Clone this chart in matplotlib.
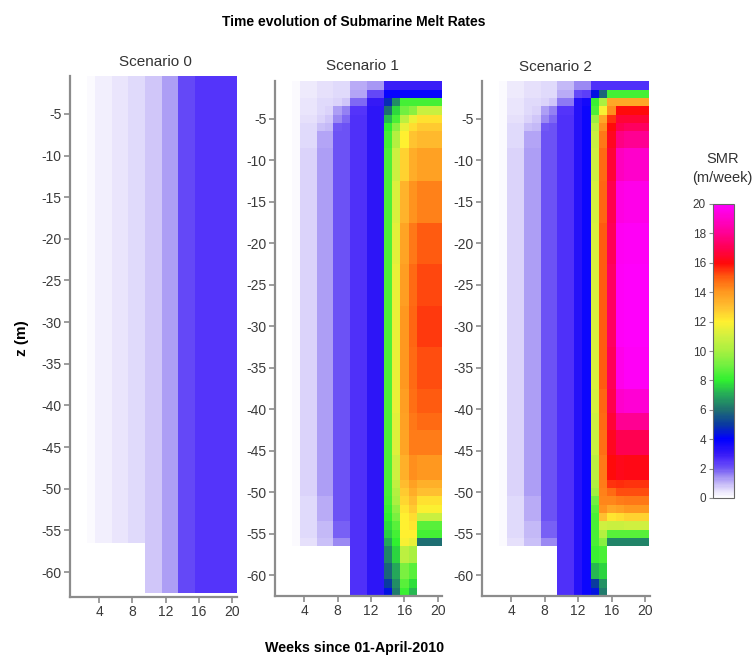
import numpy as np
import matplotlib.pyplot as plt
from matplotlib.colors import LinearSegmentedColormap

plt.rcParams["font.family"] = ["Liberation Sans", "DejaVu Sans"]
plt.rcParams["axes.unicode_minus"] = False

N = np.nan

# x: weeks since 01-April-2010, one cell per week
weeks = list(range(1, 21))
week_edges = [w - 0.5 for w in weeks] + [20.5]

# depth bands (m), top -> bottom (1 m cells near top/bottom, coarser in the middle)
z_edges = [-0.5, -1.5, -2.5, -3.5, -4.5, -5.5, -6.5, -8.5, -12.5, -17.5, -22.5,
           -27.5, -32.5, -37.5, -40.5, -42.5, -45.5, -48.5, -49.5, -50.5, -51.5,
           -52.5, -53.5, -54.5, -55.5, -56.5, -58.5, -60.5, -61.5, -62.5]

yticks = [-5, -10, -15, -20, -25, -30, -35, -40, -45, -50, -55, -60]
xticks = [4, 8, 12, 16, 20]
cbar_ticks = [0, 2, 4, 6, 8, 10, 12, 14, 16, 18, 20]

# Scenario 0: each week constant with depth, early weeks stop at -56.5 m
s0_weekly = [0.02, 0.02, 0.1, 0.25, 0.25, 0.4, 0.4, 0.6, 0.6, 0.85,
             0.85, 1.3, 1.3, 2.2, 2.2, 2.5, 2.5, 2.5, 2.5, 2.5]
s0_bottom = [-56.5] * 9 + [-62.5] * 11

# Scenario 1 SMR (m/week), rows = depth bands, cols = weeks 1..20
s1 = [
    [0.02, 0.05, 0.1, 0.35, 0.35, 0.5, 0.5, 0.6, 0.6, 1.1, 1.1, 1.4, 1.4, 2.9, 2.9, 2.9, 2.9, 2.9, 2.9, 2.9],
    [0.02, 0.05, 0.1, 0.35, 0.35, 0.5, 0.5, 0.6, 0.6, 1.2, 1.2, 2.2, 2.2, 3.9, 3.9, 3.9, 3.9, 3.9, 3.9, 3.9],
    [0.02, 0.05, 0.1, 0.4, 0.4, 0.55, 0.55, 0.7, 0.8, 1.8, 1.8, 3.0, 3.0, 4.8, 6.5, 8.3, 8.3, 8.3, 8.3, 8.3],
    [0.02, 0.05, 0.1, 0.45, 0.45, 0.6, 0.7, 1.3, 1.6, 2.5, 2.5, 3.2, 3.2, 6.0, 7.7, 9.0, 9.5, 10.8, 10.8, 10.8],
    [0.02, 0.05, 0.12, 0.5, 0.5, 0.7, 0.8, 1.5, 1.8, 2.6, 2.6, 3.2, 3.2, 7.2, 8.4, 10.5, 11.6, 12.3, 12.3, 12.3],
    [0.02, 0.05, 0.12, 0.55, 0.55, 0.9, 1.0, 2.0, 2.1, 2.6, 2.6, 3.2, 3.2, 8.0, 9.5, 11.5, 12.4, 12.8, 12.8, 12.8],
    [0.02, 0.05, 0.12, 0.6, 0.6, 1.2, 1.2, 2.1, 2.1, 2.6, 2.6, 3.2, 3.2, 8.3, 10.3, 12.0, 12.9, 13.2, 13.2, 13.2],
    [0.02, 0.05, 0.12, 0.7, 0.7, 1.3, 1.3, 2.1, 2.1, 2.6, 2.6, 3.2, 3.2, 8.5, 10.9, 12.6, 13.5, 13.8, 13.8, 13.8],
    [0.02, 0.05, 0.12, 0.7, 0.7, 1.3, 1.3, 2.1, 2.1, 2.6, 2.6, 3.2, 3.2, 8.5, 11.2, 13.3, 14.1, 14.4, 14.4, 14.4],
    [0.02, 0.05, 0.12, 0.7, 0.7, 1.3, 1.3, 2.1, 2.1, 2.6, 2.6, 3.2, 3.2, 8.5, 11.4, 13.7, 14.6, 15.0, 15.0, 15.0],
    [0.02, 0.05, 0.12, 0.7, 0.7, 1.3, 1.3, 2.1, 2.1, 2.6, 2.6, 3.2, 3.2, 8.5, 11.5, 13.9, 14.8, 15.3, 15.3, 15.3],
    [0.02, 0.05, 0.12, 0.7, 0.7, 1.3, 1.3, 2.1, 2.1, 2.6, 2.6, 3.2, 3.2, 8.5, 11.5, 14.0, 14.9, 15.4, 15.4, 15.4],
    [0.02, 0.05, 0.12, 0.7, 0.7, 1.3, 1.3, 2.1, 2.1, 2.6, 2.6, 3.2, 3.2, 8.5, 11.5, 14.0, 14.8, 15.2, 15.2, 15.2],
    [0.02, 0.05, 0.12, 0.7, 0.7, 1.3, 1.3, 2.1, 2.1, 2.6, 2.6, 3.2, 3.2, 8.5, 11.5, 13.9, 14.7, 15.0, 15.0, 15.0],
    [0.02, 0.05, 0.12, 0.7, 0.7, 1.3, 1.3, 2.1, 2.1, 2.6, 2.6, 3.2, 3.2, 8.5, 11.4, 13.8, 14.6, 14.8, 14.8, 14.8],
    [0.02, 0.05, 0.12, 0.7, 0.7, 1.3, 1.3, 2.1, 2.1, 2.6, 2.6, 3.2, 3.2, 8.5, 11.3, 13.7, 14.5, 14.5, 14.5, 14.5],
    [0.02, 0.05, 0.12, 0.7, 0.7, 1.3, 1.3, 2.1, 2.1, 2.6, 2.6, 3.2, 3.2, 8.5, 11.0, 13.4, 14.2, 14.0, 14.0, 14.0],
    [0.02, 0.05, 0.12, 0.7, 0.7, 1.3, 1.3, 2.1, 2.1, 2.6, 2.6, 3.2, 3.2, 8.4, 10.6, 13.1, 13.8, 13.4, 13.4, 13.4],
    [0.02, 0.05, 0.12, 0.7, 0.7, 1.3, 1.3, 2.1, 2.1, 2.6, 2.6, 3.2, 3.2, 8.4, 10.3, 12.8, 13.5, 13.0, 13.0, 13.0],
    [0.02, 0.05, 0.12, 0.6, 0.6, 1.1, 1.1, 2.1, 2.1, 2.6, 2.6, 3.2, 3.2, 8.3, 10.0, 12.5, 13.1, 12.3, 12.3, 12.3],
    [0.02, 0.05, 0.12, 0.6, 0.6, 1.1, 1.1, 2.1, 2.1, 2.6, 2.6, 3.2, 3.2, 8.2, 9.6, 12.2, 12.8, 11.9, 11.9, 11.9],
    [0.02, 0.05, 0.12, 0.6, 0.6, 1.1, 1.1, 2.1, 2.1, 2.6, 2.6, 3.2, 3.2, 8.0, 9.2, 12.0, 12.4, 10.8, 10.8, 10.8],
    [0.02, 0.05, 0.12, 0.55, 0.55, 1.0, 1.0, 1.9, 1.9, 2.6, 2.6, 3.2, 3.2, 7.8, 8.6, 12.0, 12.2, 8.6, 8.6, 8.6],
    [0.02, 0.05, 0.12, 0.55, 0.55, 1.0, 1.0, 1.9, 1.9, 2.6, 2.6, 3.2, 3.2, 7.5, 8.3, 12.0, 12.0, 8.3, 8.3, 8.3],
    [0.02, 0.05, 0.12, 0.5, 0.5, 0.9, 0.9, 1.5, 1.5, 2.6, 2.6, 3.2, 3.2, 7.0, 8.0, 11.8, 11.5, 6.0, 6.0, 6.0],
    [N, N, N, N, N, N, N, N, N, 2.6, 2.6, 3.2, 3.2, 6.4, 7.6, 10.5, 10.0, N, N, N],
    [N, N, N, N, N, N, N, N, N, 2.6, 2.6, 3.2, 3.2, 5.8, 7.0, 9.2, 8.6, N, N, N],
    [N, N, N, N, N, N, N, N, N, 2.6, 2.6, 3.2, 3.2, 5.0, 6.5, 8.6, 7.8, N, N, N],
    [N, N, N, N, N, N, N, N, N, 2.6, 2.6, 3.2, 3.2, 4.3, 6.2, 8.2, 7.2, N, N, N],
]

# Scenario 2 SMR (m/week)
s2 = [
    [0.02, 0.05, 0.1, 0.35, 0.35, 0.5, 0.5, 0.6, 0.6, 1.0, 1.0, 1.5, 1.5, 2.6, 2.6, 2.6, 2.6, 2.6, 2.6, 2.6],
    [0.02, 0.05, 0.1, 0.35, 0.35, 0.5, 0.5, 0.6, 0.6, 1.1, 1.1, 2.2, 2.4, 4.3, 5.8, 8.3, 8.3, 8.3, 8.3, 8.3],
    [0.02, 0.05, 0.1, 0.4, 0.4, 0.55, 0.55, 0.7, 0.8, 1.7, 1.7, 3.3, 3.6, 8.2, 10.0, 13.6, 13.6, 13.6, 13.6, 13.6],
    [0.02, 0.05, 0.1, 0.45, 0.45, 0.6, 0.7, 1.3, 1.6, 2.5, 2.5, 3.3, 3.8, 8.5, 11.8, 14.2, 16.0, 16.0, 16.0, 16.0],
    [0.02, 0.05, 0.12, 0.5, 0.5, 0.7, 0.8, 1.5, 1.8, 2.6, 2.6, 3.3, 3.8, 9.8, 13.6, 15.5, 16.6, 16.6, 16.6, 16.6],
    [0.02, 0.05, 0.12, 0.55, 0.55, 0.9, 1.0, 2.0, 2.1, 2.6, 2.6, 3.3, 3.8, 10.5, 14.2, 16.0, 17.0, 17.2, 17.2, 17.2],
    [0.02, 0.05, 0.12, 0.6, 0.6, 1.2, 1.2, 2.1, 2.1, 2.6, 2.6, 3.3, 3.8, 10.8, 14.6, 16.3, 17.8, 18.0, 18.0, 18.0],
    [0.02, 0.05, 0.12, 0.7, 0.7, 1.3, 1.3, 2.1, 2.1, 2.6, 2.6, 3.3, 3.8, 11.0, 14.8, 16.6, 18.8, 19.0, 19.0, 19.0],
    [0.02, 0.05, 0.12, 0.7, 0.7, 1.3, 1.3, 2.1, 2.1, 2.6, 2.6, 3.3, 3.8, 11.1, 14.9, 16.9, 19.4, 19.6, 19.6, 19.6],
    [0.02, 0.05, 0.12, 0.7, 0.7, 1.3, 1.3, 2.1, 2.1, 2.6, 2.6, 3.3, 3.8, 11.2, 15.0, 17.1, 19.7, 19.8, 19.8, 19.8],
    [0.02, 0.05, 0.12, 0.7, 0.7, 1.3, 1.3, 2.1, 2.1, 2.6, 2.6, 3.3, 3.8, 11.2, 15.0, 17.2, 19.8, 19.9, 19.9, 19.9],
    [0.02, 0.05, 0.12, 0.7, 0.7, 1.3, 1.3, 2.1, 2.1, 2.6, 2.6, 3.3, 3.8, 11.2, 15.0, 17.2, 19.8, 19.9, 19.9, 19.9],
    [0.02, 0.05, 0.12, 0.7, 0.7, 1.3, 1.3, 2.1, 2.1, 2.6, 2.6, 3.3, 3.8, 11.2, 15.0, 17.1, 19.6, 19.8, 19.8, 19.8],
    [0.02, 0.05, 0.12, 0.7, 0.7, 1.3, 1.3, 2.1, 2.1, 2.6, 2.6, 3.3, 3.8, 11.1, 14.9, 16.9, 19.0, 19.2, 19.2, 19.2],
    [0.02, 0.05, 0.12, 0.7, 0.7, 1.3, 1.3, 2.1, 2.1, 2.6, 2.6, 3.3, 3.8, 11.0, 14.8, 16.6, 18.0, 18.0, 18.0, 18.0],
    [0.02, 0.05, 0.12, 0.7, 0.7, 1.3, 1.3, 2.1, 2.1, 2.6, 2.6, 3.3, 3.8, 10.8, 14.7, 16.3, 17.0, 17.0, 17.0, 17.0],
    [0.02, 0.05, 0.12, 0.7, 0.7, 1.3, 1.3, 2.1, 2.1, 2.6, 2.6, 3.3, 3.8, 10.5, 14.6, 16.0, 16.2, 16.1, 16.1, 16.1],
    [0.02, 0.05, 0.12, 0.7, 0.7, 1.3, 1.3, 2.1, 2.1, 2.6, 2.6, 3.3, 3.8, 10.2, 14.5, 15.5, 15.6, 15.5, 15.5, 15.5],
    [0.02, 0.05, 0.12, 0.7, 0.7, 1.3, 1.3, 2.1, 2.1, 2.6, 2.6, 3.3, 3.8, 9.9, 14.4, 14.8, 15.2, 15.2, 15.2, 15.2],
    [0.02, 0.05, 0.12, 0.6, 0.6, 1.1, 1.1, 2.1, 2.1, 2.6, 2.6, 3.3, 3.8, 9.0, 14.3, 14.3, 14.5, 14.6, 14.6, 14.6],
    [0.02, 0.05, 0.12, 0.6, 0.6, 1.1, 1.1, 2.1, 2.1, 2.6, 2.6, 3.3, 3.8, 8.6, 14.1, 13.6, 13.8, 14.0, 14.0, 14.0],
    [0.02, 0.05, 0.12, 0.6, 0.6, 1.1, 1.1, 2.1, 2.1, 2.6, 2.6, 3.3, 3.8, 8.4, 13.0, 12.2, 12.4, 12.6, 12.6, 12.6],
    [0.02, 0.05, 0.12, 0.55, 0.55, 1.0, 1.0, 1.9, 1.9, 2.6, 2.6, 3.3, 3.8, 8.4, 11.0, 10.8, 10.8, 11.0, 11.0, 11.0],
    [0.02, 0.05, 0.12, 0.55, 0.55, 1.0, 1.0, 1.9, 1.9, 2.6, 2.6, 3.3, 3.8, 8.4, 10.3, 8.6, 8.6, 8.6, 8.6, 8.6],
    [0.02, 0.05, 0.12, 0.5, 0.5, 0.9, 0.9, 1.5, 1.5, 2.6, 2.6, 3.3, 3.8, 8.4, 9.4, 6.4, 6.4, 6.4, 6.4, 6.4],
    [N, N, N, N, N, N, N, N, N, 2.6, 2.6, 3.3, 3.8, 8.2, 8.4, N, N, N, N, N],
    [N, N, N, N, N, N, N, N, N, 2.6, 2.6, 3.3, 3.8, 7.2, 7.6, N, N, N, N, N],
    [N, N, N, N, N, N, N, N, N, 2.6, 2.6, 3.3, 3.8, 5.0, 6.6, N, N, N, N, N],
    [N, N, N, N, N, N, N, N, N, 2.6, 2.6, 3.3, 3.8, 4.3, 6.2, N, N, N, N, N],
]

# colour ramp (value, colour)
cmap_stops = [
    (0.0, "#ffffff"), (0.5, "#e4defb"), (1.0, "#c0b4f7"), (1.5, "#9a88f3"),
    (2.0, "#6e54f5"), (2.5, "#5535fa"), (3.0, "#3418f6"), (4.0, "#0000ff"),
    (5.0, "#0a3aa0"), (6.0, "#1f7070"), (7.0, "#25a85a"), (8.0, "#30f030"),
    (9.0, "#70f040"), (10.0, "#a8f040"), (11.0, "#d0f040"), (12.0, "#fff030"),
    (13.0, "#ffc030"), (14.0, "#ff9a20"), (15.0, "#ff6010"), (16.0, "#ff0a0a"),
    (17.0, "#ff0050"), (18.0, "#ff0090"), (19.0, "#ff00c8"), (20.0, "#ff00ff"),
]
smr_cmap = LinearSegmentedColormap.from_list(
    "smr", [(v / 20.0, c) for v, c in cmap_stops])


def scenario0_grid():
    zc = 0.5 * (np.array(z_edges[:-1]) + np.array(z_edges[1:]))
    vals = np.array(s0_weekly)[None, :] * np.ones((len(zc), 1))
    bottom = np.array(s0_bottom)[None, :]
    return np.where(zc[:, None] > bottom, vals, np.nan)


def plot_panel(fig, rect, data, title, title_xy, xlim, ylim):
    ax = fig.add_axes(rect)
    m = np.ma.masked_invalid(np.asarray(data, float))
    mesh = ax.pcolormesh(week_edges, z_edges, m, cmap=smr_cmap, vmin=0, vmax=20,
                         shading="flat", edgecolors="none", antialiased=False)
    ax.set_xlim(*xlim)
    ax.set_ylim(*ylim)
    ax.set_xticks(xticks)
    ax.set_yticks(yticks)
    for s in ["top", "right"]:
        ax.spines[s].set_visible(False)
    for s in ["left", "bottom"]:
        ax.spines[s].set_color("#8c8c8c")
        ax.spines[s].set_linewidth(1.6)
    ax.tick_params(colors="#8c8c8c", labelcolor="#3a3a3a", labelsize=10,
                   length=4, width=1.2, pad=2)
    fig.text(title_xy[0] / W, 1 - title_xy[1] / H, title, ha="center",
             va="center", fontsize=11, color="#333333")
    return mesh


W, H = 755, 658
fig = plt.figure(figsize=(W / 100, H / 100), dpi=100)

plot_panel(fig, [70 / W, 61 / H, 167 / W, 521 / H], scenario0_grid(),
           "Scenario 0", (155, 62), (0.5, 20.55), (-63.0, -0.45))
plot_panel(fig, [275 / W, 62 / H, 167 / W, 515 / H], s1,
           "Scenario 1", (362, 66), (0.5, 20.5), (-62.5, -0.45))
mesh = plot_panel(fig, [482 / W, 62 / H, 168 / W, 515 / H], s2,
                  "Scenario 2", (555, 67), (0.5, 20.6), (-62.5, -0.45))

cax = fig.add_axes([713 / W, 160 / H, 21 / W, 294 / H])
cb = fig.colorbar(mesh, cax=cax, ticks=cbar_ticks)
cb.outline.set_edgecolor("#666666")
cb.outline.set_linewidth(0.8)
cax.yaxis.set_ticks_position("left")
cax.tick_params(colors="#8c8c8c", labelcolor="#3a3a3a", labelsize=8.5,
                length=3, width=0.8, pad=2)
fig.text(723 / W, 1 - 159 / H, "SMR", ha="center", va="center",
         fontsize=10.5, color="#333333")
fig.text(722 / W, 1 - 178 / H, "(m/week)", ha="center", va="center",
         fontsize=10.5, color="#333333")

fig.text(354 / W, 1 - 22 / H, "Time evolution of Submarine Melt Rates",
         ha="center", va="center", fontsize=10, fontweight="bold")
fig.text(22 / W, 1 - 338 / H, "z (m)", ha="center", va="center",
         rotation=90, fontsize=11, fontweight="bold")
fig.text(355 / W, 1 - 648 / H, "Weeks since 01-April-2010", ha="center",
         va="center", fontsize=10.3, fontweight="bold")

fig.savefig("out.png", dpi=100)
